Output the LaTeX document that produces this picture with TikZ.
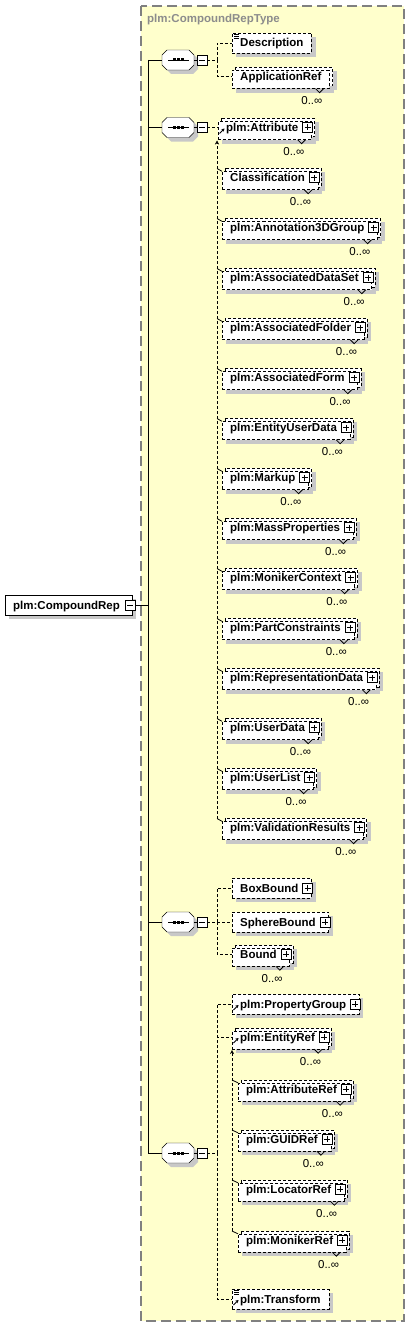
\documentclass[tikz,border=0pt]{standalone}
\usepackage{fontspec}
\setmainfont{Liberation Sans}
\usetikzlibrary{arrows.meta,calc}
\pgfdeclarelayer{bg}
\pgfdeclarelayer{shadowl}
\pgfdeclarelayer{backl}
\pgfsetlayers{bg,shadowl,backl,main}
\definecolor{panelbg}{RGB}{255,255,204}
\definecolor{panelbd}{RGB}{128,128,128}
\definecolor{shadowc}{RGB}{200,200,200}
\definecolor{titlec}{RGB}{140,140,140}
\tikzset{
  elfont/.style={font=\fontsize{11.5}{13}\selectfont\bfseries},
  elsingle/.style={elfont, draw, dash pattern=on 3pt off 2pt, fill=white, inner xsep=8pt, inner ysep=0pt, text height=14pt, text depth=6pt, anchor=base west},
  elmulti/.style={elsingle, text height=10pt, text depth=8pt},
  rootbox/.style={elsingle, solid},
  eldash/.style={draw, dash pattern=on 3pt off 2pt, fill=white},
  optc/.style={dash pattern=on 3pt off 2pt},
  mult/.style={font=\fontsize{11.5}{13}\selectfont, inner sep=0pt, anchor=base east},
  pbox/.style={draw, solid, fill=white, minimum size=10pt, inner sep=0pt},
  ttl/.style={font=\fontsize{11.5}{13}\selectfont\bfseries, text=titlec, inner sep=0pt, anchor=base west},
  panel/.style={draw=panelbd, fill=panelbg, line width=1.2pt, dash pattern=on 10pt off 5pt},
  tick/.style={line width=0.8pt},
}
% element: name, left x, text-centre y, text, multi(0/1), plus(0/1)
\newcommand\el[6]{%
  \ifnum#5=1\relax
    \node[elmulti] (#1) at (#2,#3+4) {#4\ifnum#6=1 \kern5pt\fi};
    \begin{pgfonlayer}{backl}
      \draw[eldash] ([shift={(3,-3)}]#1.north west) rectangle ([shift={(3,-3)}]#1.south east);
    \end{pgfonlayer}
    \begin{pgfonlayer}{shadowl}
      \fill[shadowc] ([shift={(4,4)}]#1.north west) rectangle ([shift={(4,4)}]#1.south east);
      \fill[shadowc] ([shift={(7,1)}]#1.north west) rectangle ([shift={(7,1)}]#1.south east);
    \end{pgfonlayer}
    \draw[line width=0.8pt] ([shift={(-14,0)}]#1.south east) -- ([shift={(-10,4)}]#1.south east) -- ([shift={(-6,0)}]#1.south east);
    \node[mult] at ([shift={(-7,24)}]#1.base east) {0..∞};
  \else
    \node[elsingle] (#1) at (#2,#3+4) {#4\ifnum#6=1 \kern5pt\fi};
    \begin{pgfonlayer}{shadowl}
      \fill[shadowc] ([shift={(4,4)}]#1.north west) rectangle ([shift={(4,4)}]#1.south east);
    \end{pgfonlayer}
  \fi
  \ifnum#6=1\relax
    \draw[fill=white] ([shift={(-9,-9)}]#1.base east) rectangle ([shift={(1,1)}]#1.base east);
    \draw ([shift={(-7,-4)}]#1.base east) -- ([shift={(-1,-4)}]#1.base east);
    \draw ([shift={(-4,-7)}]#1.base east) -- ([shift={(-4,-1)}]#1.base east);
  \fi
}
\newcommand\simpic[1]{\draw[line width=0.7pt] ([shift={(2,1.5)}]#1.north west) -- ++(5,0) ([shift={(2,3.5)}]#1.north west) -- ++(5,0) ([shift={(2,5.5)}]#1.north west) -- ++(5,0);}
\newcommand\refic[1]{\draw[line width=1pt, -{Stealth[length=3pt,width=3.5pt]}] ([shift={(1.5,2)}]#1.base west) -- ([shift={(6.5,-3)}]#1.base west);}
\newcommand\octo[2]{(#1-11,#2-10) -- (#1+11,#2-10) -- (#1+16,#2-5) -- (#1+16,#2+5) -- (#1+11,#2+10) -- (#1-11,#2+10) -- (#1-16,#2+5) -- (#1-16,#2-5) -- cycle}
\newcommand\seqc[2]{%
  \begin{pgfonlayer}{shadowl}
    \fill[shadowc] \octo{182}{#2+4};
  \end{pgfonlayer}
  \draw[fill=white] \octo{178}{#2};
  \node[minimum width=32pt, minimum height=20pt, inner sep=0pt] (#1) at (178,#2) {};
  \draw (168,#2) -- (189,#2);
  \fill (172.5,#2-1.5) rectangle ++(3,3);
  \fill (176.5,#2-1.5) rectangle ++(3,3);
  \fill (180.5,#2-1.5) rectangle ++(3,3);
  \node[pbox] (#1m) at (202,#2) {};
  \draw ([xshift=-3pt]#1m.center) -- ([xshift=3pt]#1m.center);
  \draw (#1.east) -- (#1m.west);
}
\begin{document}
\begin{tikzpicture}[x=1pt,y=-1pt,line width=1pt]
\useasboundingbox (0,0) rectangle (410,1327);
\begin{pgfonlayer}{bg}
  \draw[panel] (141,6) rectangle (404,1321);
\end{pgfonlayer}
\node[ttl] (title) at (147,22.5) {plm:CompoundRepType};

% root
\node[rootbox] (root) at (5,609) {plm:CompoundRep\kern4pt};
\begin{pgfonlayer}{shadowl}
  \fill[shadowc] ([shift={(4,4)}]root.north west) rectangle ([shift={(4,4)}]root.south east);
\end{pgfonlayer}
\node[pbox] (rootm) at ([xshift=-2pt]root.east) {};
\draw ([xshift=-3pt]rootm.center) -- ([xshift=3pt]rootm.center);

% main spine
\coordinate (mtop) at (148,60);
\coordinate (mbot) at (148,1153);
\coordinate (mroot) at (148,605);
\draw (mtop) -- (mbot);
\draw (rootm.east) -- (mroot);

% sequences
\seqc{s1}{60}
\seqc{s2}{127.5}
\seqc{s3}{922}
\seqc{s4}{1153}
\draw (mtop) -- (s1.west);
\draw (s2.west -| mtop) -- (s2.west);
\draw (s3.west -| mtop) -- (s3.west);
\draw (mbot) -- (s4.west);

% sequence 1
\el{desc}{232}{43}{Description}{0}{0}
\simpic{desc}
\el{appref}{232}{76.5}{ApplicationRef}{1}{0}
\coordinate (b1) at (217,60);
\draw[optc] (s1m.east) -- (b1);
\draw[optc] (b1) |- (desc.west);
\draw[optc] (b1) |- ([yshift=4pt]appref.base west);

% sequence 2
\el{attr}{218}{127.5}{plm:Attribute}{1}{1}
\refic{attr}
\draw[optc] (s2m.east) -- ([yshift=4pt]attr.base west);
\el{cls}{222}{177.5}{Classification}{1}{1}
\el{ann}{222}{227.5}{plm:Annotation3DGroup}{1}{1}
\el{ads}{222}{277.5}{plm:AssociatedDataSet}{1}{1}
\el{afo}{222}{327.5}{plm:AssociatedFolder}{1}{1}
\el{afm}{222}{377.5}{plm:AssociatedForm}{1}{1}
\el{eud}{222}{427.5}{plm:EntityUserData}{1}{1}
\el{mku}{222}{477.5}{plm:Markup}{1}{1}
\el{mps}{222}{527.5}{plm:MassProperties}{1}{1}
\el{mcx}{222}{577.5}{plm:MonikerContext}{1}{1}
\el{pcs}{222}{627.5}{plm:PartConstraints}{1}{1}
\el{rpd}{222}{677.5}{plm:RepresentationData}{1}{1}
\el{usd}{222}{727.5}{plm:UserData}{1}{1}
\el{usl}{222}{777.5}{plm:UserList}{1}{1}
\el{vrs}{222}{827.5}{plm:ValidationResults}{1}{1}
\coordinate (sub2t) at (217,140.5);
\coordinate (sub2b) at (217,818.5);
\draw[optc, -{Stealth[length=4pt,width=4pt]}] (sub2b) -- (sub2t);
\foreach \n/\y in {cls/177.5,ann/227.5,ads/277.5,afo/327.5,afm/377.5,eud/427.5,mku/477.5,mps/527.5,mcx/577.5,pcs/627.5,rpd/677.5,usd/727.5,usl/777.5,vrs/827.5}{
  \coordinate (k\n) at (217,\y-9);
  \draw[tick] (k\n) -- (\n.north west);
}

% sequence 3
\el{bbx}{232}{888}{BoxBound}{0}{1}
\el{sbd}{232}{922}{SphereBound}{0}{1}
\el{bnd}{232}{954}{Bound}{1}{1}
\coordinate (b3) at (217,922);
\draw[optc] (s3m.east) -- (b3);
\draw[optc] (b3) |- (bbx.west);
\draw[optc] (b3) -- (sbd.west);
\draw[optc] (b3) |- ([yshift=4pt]bnd.base west);

% sequence 4
\el{ppg}{232}{1004}{plm:PropertyGroup}{0}{1}
\refic{ppg}
\el{ent}{232}{1037}{plm:EntityRef}{1}{1}
\refic{ent}
\el{atr}{238}{1089}{plm:AttributeRef}{1}{1}
\el{gui}{238}{1139}{plm:GUIDRef}{1}{1}
\el{loc}{238}{1189}{plm:LocatorRef}{1}{1}
\el{mon}{238}{1240}{plm:MonikerRef}{1}{1}
\el{trf}{232}{1299}{plm:Transform}{0}{0}
\refic{trf}
\simpic{trf}
\coordinate (b4) at (217,1153);
\draw[optc] (s4m.east) -- (b4);
\draw[optc] (b4) |- (ppg.west);
\draw[optc] (b4) |- ([yshift=4pt]ent.base west);
\draw[optc] (b4) |- (trf.west);
\coordinate (sub4t) at (232,1050);
\coordinate (sub4b) at (232,1231);
\draw[optc, -{Stealth[length=4pt,width=4pt]}] (sub4b) -- (sub4t);
\foreach \n/\y in {atr/1089,gui/1139,loc/1189,mon/1240}{
  \coordinate (k\n) at (232,\y-9);
  \draw[tick] (k\n) -- (\n.north west);
}
\end{tikzpicture}
\end{document}
